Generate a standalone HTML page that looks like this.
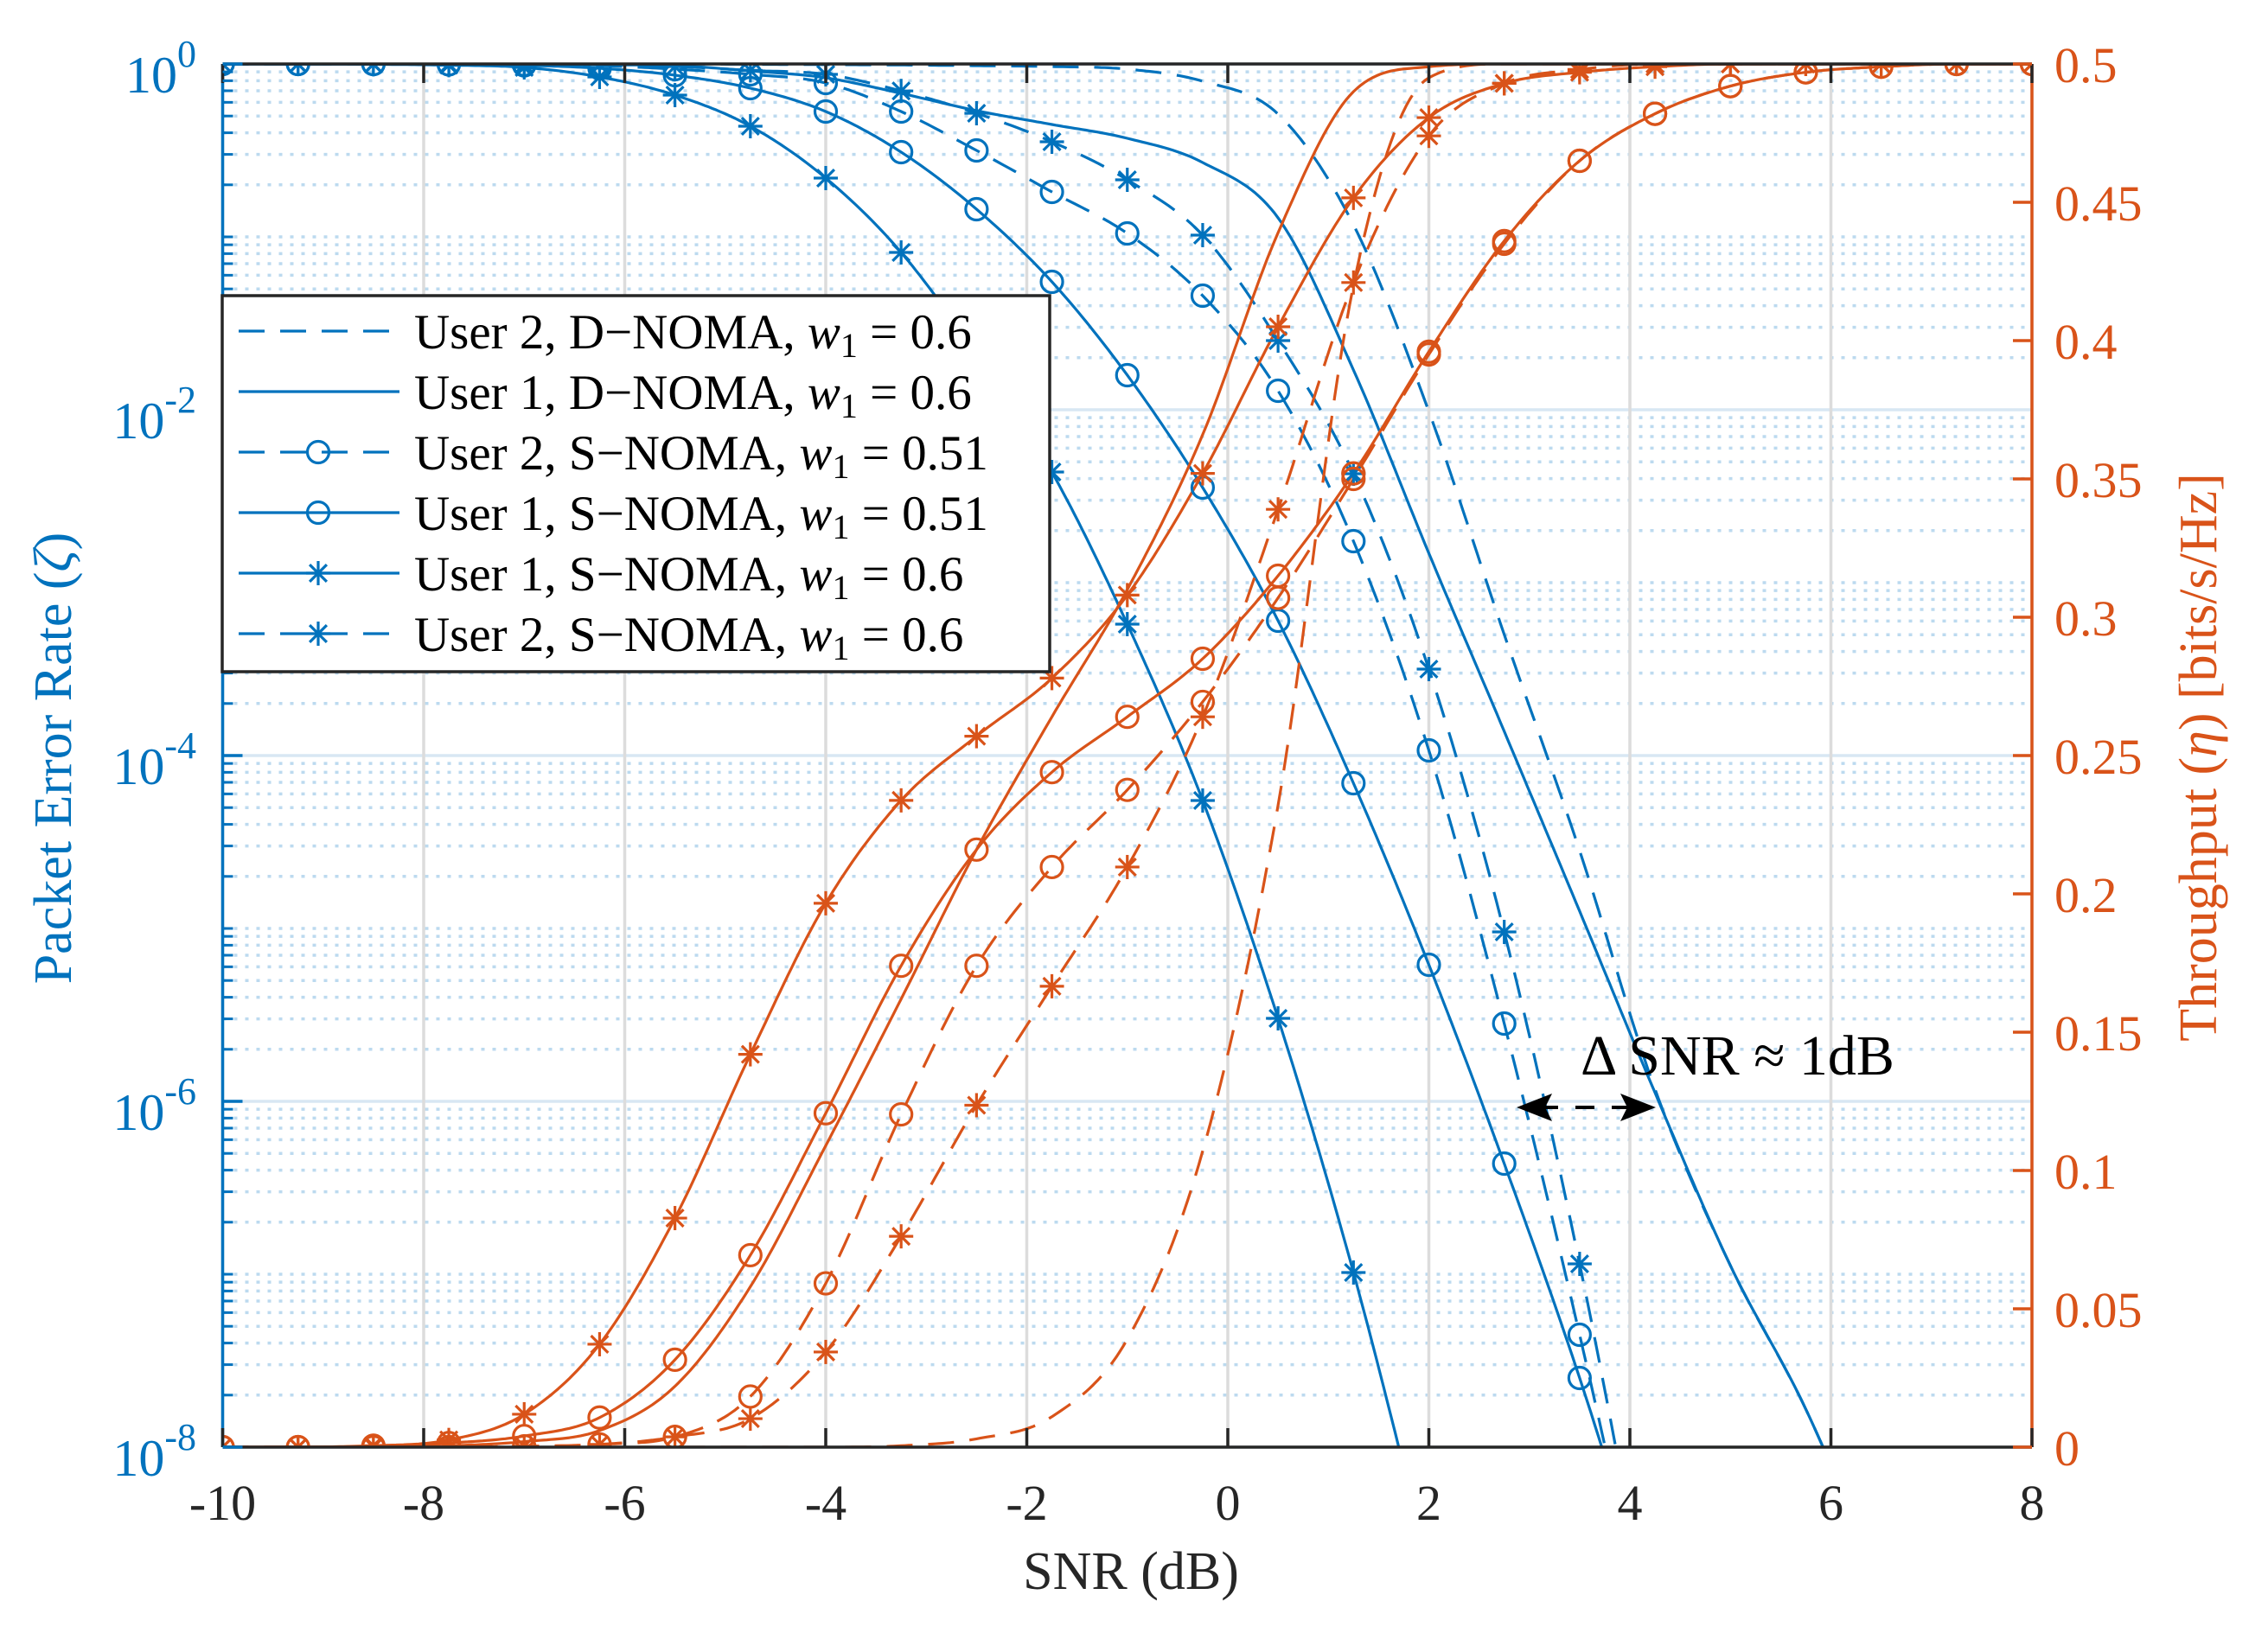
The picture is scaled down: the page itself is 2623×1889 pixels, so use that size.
<!DOCTYPE html>
<html><head><meta charset="utf-8"><style>
html,body{margin:0;padding:0;background:#fff;width:2623px;height:1889px;overflow:hidden;}
svg{display:block;font-family:"Liberation Serif",serif;}
</style></head><body>
<svg id="chart" width="2623" height="1889" viewBox="0 0 2623 1889" xmlns="http://www.w3.org/2000/svg">
<rect x="0" y="0" width="2623" height="1889" fill="#fff"/>
<defs><clipPath id="plotclip"><rect x="257" y="74" width="2093" height="1600"/></clipPath></defs>
<g id="grid"></g>
<g id="series" clip-path="url(#plotclip)"></g>
<g id="markers" clip-path="url(#plotclip)"></g>
<g id="axes"></g>
<text x="1308" y="1838" font-size="62" text-anchor="middle" fill="#262626">SNR (dB)</text>
<text transform="translate(82,877) rotate(-90)" font-size="62" text-anchor="middle" fill="#0072BD">Packet Error Rate (<tspan font-style="italic">ζ</tspan>)</text>
<text transform="translate(2563,876) rotate(-90)" font-size="62" text-anchor="middle" fill="#D95319">Throughput (<tspan font-style="italic">η</tspan>) [bits/s/Hz]</text>
<g>
<text x="1828" y="1243" font-size="66" fill="#000">Δ SNR ≈ 1dB</text>
<line x1="1780" y1="1281" x2="1890" y2="1281" stroke="#000" stroke-width="4" stroke-dasharray="22,20"/>
<polygon points="1754,1281 1795,1265 1787,1281 1795,1297" fill="#000"/>
<polygon points="1915,1281 1874,1265 1882,1281 1874,1297" fill="#000"/>
</g>
<g id="legend"></g>
</svg>
<script>
// ---- data ----
const snr = [-10,-9.25,-8.5,-7.75,-7,-6.25,-5.5,-4.75,-4,-3.25,-2.5,-1.75,-1,-0.25,0.5,1.25,2,2.75,3.5,4.25,5,5.75,6.5,7.25,8];
const xTicks = [-10,-8,-6,-4,-2,0,2,4,6,8];
const rightTicks = [0,0.05,0.1,0.15,0.2,0.25,0.3,0.35,0.4,0.45,0.5];
const rightTickLabels = ["0","0.05","0.1","0.15","0.2","0.25","0.3","0.35","0.4","0.45","0.5"];
const leftTickExps = [0,-2,-4,-6,-8];
// log10(PER)
const perU2D = [0,0,0,0,0,0,0,-0.002,-0.004,-0.006,-0.01,-0.015,-0.03,-0.1,-0.29,-0.93,-2.01,-3.3,-4.55,-5.93,-6.95,-7.78,-8.8,null,null];
const perU1D = [0,0,0,0,-0.002,-0.005,-0.01,-0.04,-0.08,-0.17,-0.27,-0.35,-0.43,-0.57,-0.89,-1.77,-2.83,-3.86,-4.9,-5.95,-6.95,-7.78,-8.8,null,null];
const perU2S051 = [0,0,0,-0.002,-0.004,-0.01,-0.03,-0.06,-0.11,-0.275,-0.5,-0.74,-0.98,-1.34,-1.89,-2.76,-3.97,-5.55,-7.35,-9.3,null,null,null,null,null];
const perU1S051 = [0,0,0,-0.002,-0.008,-0.025,-0.065,-0.14,-0.275,-0.51,-0.84,-1.26,-1.8,-2.45,-3.22,-4.16,-5.21,-6.36,-7.6,-9.0,null,null,null,null,null];
const perU1S06 = [0,0,-0.002,-0.007,-0.02,-0.075,-0.18,-0.36,-0.66,-1.09,-1.68,-2.36,-3.24,-4.26,-5.52,-6.99,-8.7,-10.5,null,null,null,null,null,null,null];
const perU2S06 = [0,0,0,0,-0.002,-0.006,-0.015,-0.037,-0.06,-0.156,-0.285,-0.45,-0.67,-0.99,-1.6,-2.37,-3.5,-5.02,-6.94,-9.2,null,null,null,null,null];
// throughput
const thrU2D = [0,0,0,0,0,0,0,0,0,0.0005,0.003,0.011,0.039,0.107,0.232,0.42,0.495,0.5,0.5,0.5,0.5,0.5,0.5,0.5,0.5];
const thrU1D = [0,0,0,0.0005,0.002,0.006,0.022,0.058,0.109,0.162,0.216,0.264,0.31,0.366,0.439,0.49,0.499,0.5,0.5,0.5,0.5,0.5,0.5,0.5,0.5];
const thrU2S051 = [0,0,0,0,0.0003,0.001,0.0037,0.0183,0.0592,0.1203,0.174,0.2097,0.2376,0.2694,0.307,0.35,0.395,0.435,0.465,0.482,0.492,0.497,0.499,0.5,0.5];
const thrU1S051 = [0,0,0.0005,0.0015,0.004,0.0107,0.0316,0.0694,0.1207,0.174,0.216,0.244,0.264,0.285,0.315,0.352,0.396,0.436,0.465,0.482,0.492,0.497,0.499,0.5,0.5];
const thrU1S06 = [0,0,0.0005,0.0026,0.0119,0.0372,0.0828,0.142,0.1966,0.2338,0.257,0.278,0.308,0.352,0.405,0.4516,0.4806,0.493,0.497,0.499,0.5,0.5,0.5,0.5,0.5];
const thrU2S06 = [0,0,0,0,0.0003,0.001,0.0037,0.0103,0.0344,0.0762,0.1236,0.1666,0.2097,0.264,0.339,0.421,0.474,0.493,0.498,0.5,0.5,0.5,0.5,0.5,0.5];

// ---- scales ----
const X0=257.5, X1=2350, YT=74, YB=1674;
const BLUE="#0072BD", ORANGE="#D95319";
function xs(v){return X0+(v+10)/18*(X1-X0);}
function yl(lg){return YT+(-lg)/8*(YB-YT);}
function yr(v){return YB-v/0.5*(YB-YT);}
const NS="http://www.w3.org/2000/svg";
function mk(tag,attrs,parent){const e=document.createElementNS(NS,tag);for(const k in attrs)e.setAttribute(k,attrs[k]);if(parent)parent.appendChild(e);return e;}

// monotone cubic interpolation
function monotone(xsA,ysA){
  const n=xsA.length;if(n<2)return xsA.map((x,i)=>[x,ysA[i]]);
  const d=[],m=new Array(n);
  for(let i=0;i<n-1;i++)d.push((ysA[i+1]-ysA[i])/(xsA[i+1]-xsA[i]));
  m[0]=d[0];m[n-1]=d[n-2];
  for(let i=1;i<n-1;i++){m[i]=(d[i-1]*d[i]<=0)?0:(d[i-1]+d[i])/2;}
  for(let i=0;i<n-1;i++){
    if(d[i]===0){m[i]=0;m[i+1]=0;continue;}
    const a=m[i]/d[i],b=m[i+1]/d[i],s=a*a+b*b;
    if(s>9){const t=3/Math.sqrt(s);m[i]=t*a*d[i];m[i+1]=t*b*d[i];}
  }
  const out=[];
  for(let i=0;i<n-1;i++){
    const h=xsA[i+1]-xsA[i];
    for(let k=0;k<20;k++){
      const t=k/20,t2=t*t,t3=t2*t;
      const y=(2*t3-3*t2+1)*ysA[i]+(t3-2*t2+t)*h*m[i]+(-2*t3+3*t2)*ysA[i+1]+(t3-t2)*h*m[i+1];
      out.push([xsA[i]+t*h,y]);
    }
  }
  out.push([xsA[n-1],ysA[n-1]]);
  return out;
}

// ---- grid ----
const grid=document.getElementById('grid');
for(let k=0;k<8;k++){
  for(let j=1;j<=9;j++){
    const lg=-k-1+Math.log10(j);
    if(j===1 && (k+1)%2===0) continue;
    const y=yl(lg);
    const gl=mk('line',{x1:X0,x2:X1,y1:y,y2:y,stroke:'#bcdaef','stroke-width':3.5,'stroke-dasharray':'4,9'},grid);
    
    
  }
}
leftTickExps.forEach(e=>{const y=yl(e);
  const gl=mk('line',{x1:X0,x2:X1,y1:y,y2:y,stroke:'#d8e7f3','stroke-width':3.5},grid);
  
  
});
xTicks.forEach(v=>{const x=xs(v);
  const gl=mk('line',{x1:x,x2:x,y1:YT,y2:YB,stroke:'#dcdcdc','stroke-width':3.5},grid);
  
  
});

// ---- series ----
const sg=document.getElementById('series'), mg=document.getElementById('markers');
function drawSeries(name,vals,ymap,color,dashed,marker){
  const px=[],py=[];
  for(let i=0;i<snr.length;i++){if(vals[i]===null)break;px.push(snr[i]);py.push(vals[i]);}
  const pts=monotone(px,py);
  const d=pts.map((p,i)=>(i?'L':'M')+xs(p[0]).toFixed(1)+' '+ymap(p[1]).toFixed(1)).join(' ');
  const path=mk('path',{d:d,fill:'none',stroke:color,'stroke-width':3.2,'stroke-linejoin':'round'},sg);
  if(dashed)path.setAttribute('stroke-dasharray','30,18');
  
  
  if(marker){
    for(let i=0;i<px.length;i++){
      const cx=xs(px[i]),cy=ymap(py[i]);
      if(cy>YB+15||cy<YT-15)continue;
      const m=drawMarker(marker,cx,cy,color,mg);
      
      
    }
  }
}
function drawMarker(type,cx,cy,color,parent){
  if(type==='o'){return mk('circle',{cx:cx,cy:cy,r:12.5,fill:'none',stroke:color,'stroke-width':3.2},parent);}
  const g=mk('g',{stroke:color,'stroke-width':3.2},parent);
  const r=14,q=r*0.707;
  mk('line',{x1:cx-r,y1:cy,x2:cx+r,y2:cy},g);
  mk('line',{x1:cx,y1:cy-r,x2:cx,y2:cy+r},g);
  mk('line',{x1:cx-q,y1:cy-q,x2:cx+q,y2:cy+q},g);
  mk('line',{x1:cx-q,y1:cy+q,x2:cx+q,y2:cy-q},g);
  return g;
}
drawSeries('per-user2-dnoma',perU2D,yl,BLUE,true,null);
drawSeries('per-user1-dnoma',perU1D,yl,BLUE,false,null);
drawSeries('per-user2-snoma-051',perU2S051,yl,BLUE,true,'o');
drawSeries('per-user1-snoma-051',perU1S051,yl,BLUE,false,'o');
drawSeries('per-user1-snoma-06',perU1S06,yl,BLUE,false,'*');
drawSeries('per-user2-snoma-06',perU2S06,yl,BLUE,true,'*');
drawSeries('thr-user2-dnoma',thrU2D,yr,ORANGE,true,null);
drawSeries('thr-user1-dnoma',thrU1D,yr,ORANGE,false,null);
drawSeries('thr-user2-snoma-051',thrU2S051,yr,ORANGE,true,'o');
drawSeries('thr-user1-snoma-051',thrU1S051,yr,ORANGE,false,'o');
drawSeries('thr-user1-snoma-06',thrU1S06,yr,ORANGE,false,'*');
drawSeries('thr-user2-snoma-06',thrU2S06,yr,ORANGE,true,'*');

// ---- axes ----
const ax=document.getElementById('axes');
function L(a,p,name){const e=mk('line',a,p);return e;}
L({x1:X0,x2:X1,y1:YT,y2:YT,stroke:'#262626','stroke-width':3.5},ax,'top-axis-line');
L({x1:X0,x2:X1,y1:YB,y2:YB,stroke:'#262626','stroke-width':3.5},ax,'x-axis-line');
L({x1:X0,x2:X0,y1:YT,y2:YB,stroke:BLUE,'stroke-width':3.5},ax,'left-axis-line');
L({x1:X1,x2:X1,y1:YT,y2:YB,stroke:ORANGE,'stroke-width':3.5},ax,'right-axis-line');
xTicks.forEach(v=>{const x=xs(v);
  L({x1:x,x2:x,y1:YB,y2:YB-22,stroke:'#262626','stroke-width':3.5},ax,'x-tick');
  L({x1:x,x2:x,y1:YT,y2:YT+22,stroke:'#262626','stroke-width':3.5},ax,'x-tick-top');
  const t=mk('text',{x:x,y:1758,'font-size':58,'text-anchor':'middle',fill:'#262626'},ax);
  t.textContent=String(v);
  
  
});
for(let k=0;k<8;k++){for(let j=2;j<=9;j++){const y=yl(-k-1+Math.log10(j));
  L({x1:X0,x2:X0+12,y1:y,y2:y,stroke:BLUE,'stroke-width':3},ax,'left-minor-tick');}}
for(let k=-7;k<=-1;k+=2){const y=yl(k);L({x1:X0,x2:X0+12,y1:y,y2:y,stroke:BLUE,'stroke-width':3},ax,'left-minor-tick');}
leftTickExps.forEach(e=>{const y=yl(e);
  L({x1:X0,x2:X0+23,y1:y,y2:y,stroke:BLUE,'stroke-width':3.5},ax,'left-major-tick');
  const t=mk('text',{x:227,y:y+33,'font-size':60,'text-anchor':'end',fill:BLUE},ax);
  
  
  const b=mk('tspan',{},t);b.textContent='10';
  const s=mk('tspan',{dy:-30,'font-size':44},t);s.textContent=String(e);
});
rightTicks.forEach((v,i)=>{const y=yr(v);
  L({x1:X1,x2:X1-22,y1:y,y2:y,stroke:ORANGE,'stroke-width':3.5},ax,'right-tick');
  const t=mk('text',{x:2376,y:y+21,'font-size':58,fill:ORANGE},ax);
  t.textContent=rightTickLabels[i];
  
  
});

// ---- legend ----
const lg=document.getElementById('legend');
const box=mk('rect',{x:257,y:342,width:957,height:435,fill:'#fff',stroke:'#262626','stroke-width':3.5},lg);


const legendItems=[
  ['User 2, D−NOMA, ','0.6',true,null],
  ['User 1, D−NOMA, ','0.6',false,null],
  ['User 2, S−NOMA, ','0.51',true,'o'],
  ['User 1, S−NOMA, ','0.51',false,'o'],
  ['User 1, S−NOMA, ','0.6',false,'*'],
  ['User 2, S−NOMA, ','0.6',true,'*']];
legendItems.forEach((it,i)=>{
  const y=383+i*70;
  const g=mk('g',{},lg);
  
  
  const ln=mk('line',{x1:276,x2:462,y1:y,y2:y,stroke:BLUE,'stroke-width':3.2},g);
  if(it[2])ln.setAttribute('stroke-dasharray','30,18');
  if(it[3])drawMarker(it[3],368,y,BLUE,g);
  const t=mk('text',{x:479,y:y+20,'font-size':57,fill:'#000'},g);
  const a=mk('tspan',{},t);a.textContent=it[0];
  const w=mk('tspan',{'font-style':'italic'},t);w.textContent='w';
  const s=mk('tspan',{'font-size':40,dy:10},t);s.textContent='1';
  const r=mk('tspan',{dy:-10},t);r.textContent=' = '+it[1];
});
</script>
</body></html>
